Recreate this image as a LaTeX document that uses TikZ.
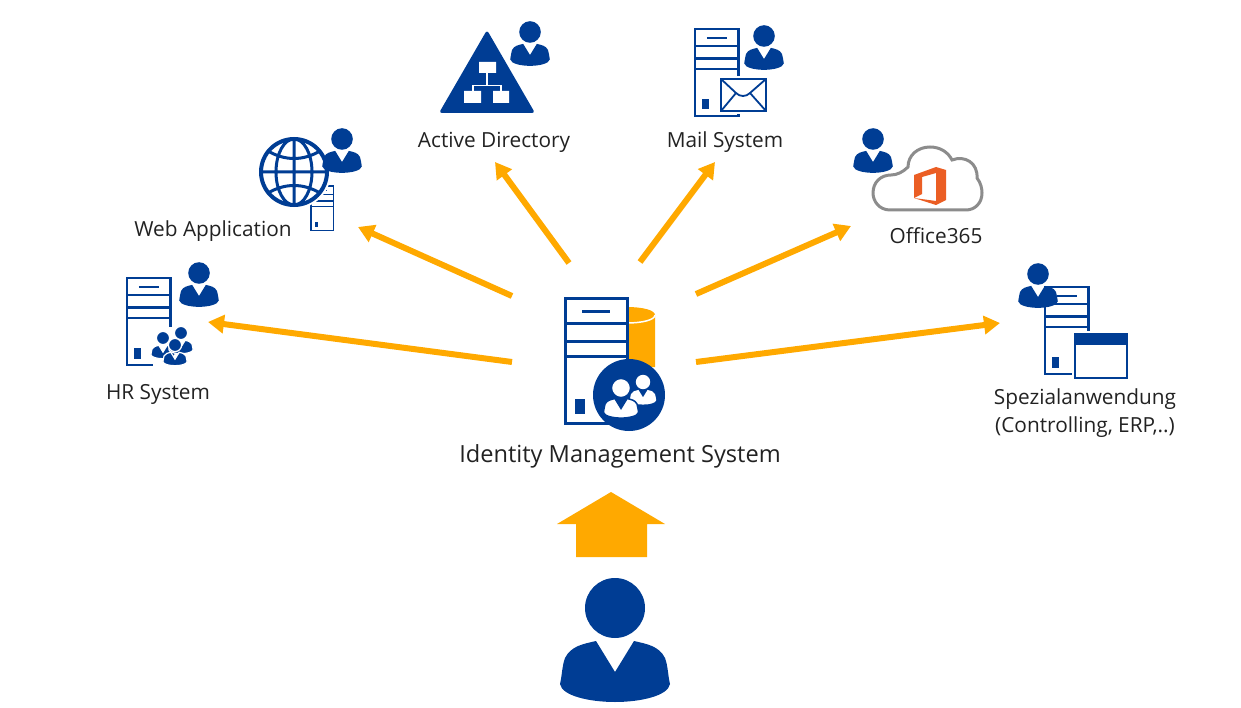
\documentclass[tikz,border=0pt]{standalone}
\usepackage{fontspec}
\setmainfont{Open Sans}
\usetikzlibrary{arrows.meta}
\definecolor{idmblue}{HTML}{003D94}
\definecolor{idmorange}{HTML}{FFA900}
\definecolor{idmgray}{HTML}{8C8C8C}
\definecolor{officeorange}{HTML}{EB5E24}
\definecolor{idmtext}{HTML}{222222}
\tikzset{
	pics/person/.style = {code = {
		\path[pic actions,line width=#1] (0,0) circle[radius=30];
		\path[pic actions,line width=#1] (-19,33) -- (0,64) -- (19,33) .. controls (32,36) and (44,38) .. (50,50)
		.. controls (53,58) and (53,68) .. (55,76) .. controls (53,88) and (25,94) .. (0,94)
		.. controls (-25,94) and (-53,88) .. (-55,76) .. controls (-53,68) and (-53,58) .. (-50,50)
		.. controls (-44,38) and (-32,36) .. (-19,33) -- cycle;
	}},
	pics/person/.default = 0pt,
	pics/server/.style = {code = {
		\draw[idmblue,fill=white,line width=#1] (0,0) rectangle (62,124);
		\draw[idmblue,line width=#1] (0,24) -- (62,24) (0,42) -- (62,42) (0,57) -- (62,57) (17,13) -- (45,13);
		\fill[idmblue] (10,100) rectangle (20,115);
	}}
}
\begin{document}
\begin{tikzpicture}[x=1pt,y=-1pt,
	small person/.style = {fill=idmblue,scale=0.36},
	crowd person/.style = {fill=idmblue,draw=white,scale=0.22},
	inner person/.style = {fill=white,draw=idmblue},
	flow/.style = {idmorange,line width=6pt,-{Triangle[width=18pt,length=16pt]}},
	label/.style = {text=idmtext,font=\fontsize{20.8}{27.5}\selectfont,align=center,inner sep=0pt}]
	
	\useasboundingbox (0,0) rectangle (1241,708);
	
	% central system
	\fill[idmorange] (627,307) .. controls (642,307) and (655,310) .. (655,315) -- (655,367) -- (627,367) -- cycle;
	\draw[white,line width=1.5pt] (627,323) .. controls (642,323) and (655,320) .. (655,315);
	\pic at (565,299) {server=3pt};
	\fill[idmblue] (629,395) circle[radius=36];
	\pic[fill=white,scale=0.24] at (643,382) {person};
	\pic[inner person,scale=0.32] at (621,388) {person=1.5pt};
	\node[text=idmtext,font=\fontsize{23.6}{28}\selectfont,inner sep=0pt] (main) at (620,456.5) {Identity Management System};
	
	% active directory
	\fill[idmblue,rounded corners=3pt] (487,30) -- (535,113) -- (439,113) -- cycle;
	\fill[white] (479,62) rectangle (496,73) (464,91) rectangle (481,103) (493,91) rectangle (509,103);
	\draw[white,line width=1.5pt] (487,73) -- (487,85.5) (473,91) -- (473,85.5) -- (501,85.5) -- (501,91);
	\pic[small person] at (530,32) {person};
	\node[label] (ad) at (494,142) {Active Directory};
	
	% mail
	\pic[scale=0.7] at (695,29) {server=2.5pt};
	\fill[white] (718,76) rectangle (769,114);
	\draw[idmblue,line width=2.5pt] (721,79) rectangle (766,111);
	\draw[idmblue,line width=1.8pt] (721,79) -- (736,93) .. controls (740,97) and (746,97) .. (750,93) -- (766,79)
	(721,111) -- (736,93) (766,111) -- (750,93);
	\pic[small person] at (764,36) {person};
	\node[label] (mail) at (725,142) {Mail System};
	
	% web application
	\pic[scale=0.36] at (311,186) {server=1.5pt};
	\fill[white] (294,172) circle[radius=37];
	\draw[idmblue,line width=4pt] (294,172) circle[radius=33];
	\draw[idmblue,line width=3pt] (294,172) ellipse[x radius=18,y radius=33] (294,139) -- (294,205) (261,172) -- (327,172)
	(268,151) .. controls (285,161) and (303,161) .. (320,151)
	(268,193) .. controls (285,183) and (303,183) .. (320,193);
	\pic[small person] at (342,139) {person};
	\node[label] (web) at (213,231) {Web Application};
	
	% hr
	\pic[scale=0.7] at (127,278) {server=2.5pt};
	\fill[white] (153,327) rectangle (173,369);
	\pic[crowd person] at (163,338) {person=1.2pt};
	\pic[crowd person] at (181,333) {person=1.2pt};
	\pic[crowd person] at (175,345) {person=1.2pt};
	\pic[small person] at (199,273) {person};
	\node[label] (hr) at (158,394) {HR System};
	
	% office
	\draw[idmgray,line width=3pt,fill=white] (890,210) .. controls (879,210) and (873,201) .. (873,193)
	.. controls (873,182) and (881,175) .. (891,175) .. controls (897,175) and (903,172) .. (908,167)
	.. controls (908,155) and (918,147) .. (930,147) .. controls (940,147) and (948,152) .. (952,160)
	.. controls (965,155) and (978,163) .. (977,178) .. controls (981,183) and (982,189) .. (982,193)
	.. controls (982,203) and (975,210) .. (966,210) -- cycle;
	\fill[officeorange] (914,175) -- (936,167) -- (946,170) -- (946,200) -- (936,205) -- (914,198)
	-- (936,201) -- (936,173) -- (922,177) -- (922,194) -- (914,198) -- cycle;
	\pic[small person] at (873,139) {person};
	\node[label] (office) at (936,236) {Office365};
	
	% special application
	\pic[scale=0.7] at (1045,287) {server=2.5pt};
	\fill[white] (1072,331) rectangle (1130,381);
	\draw[idmblue,line width=2.5pt] (1075,334) rectangle (1127,378);
	\fill[idmblue] (1075,334) rectangle (1127,345);
	\pic[small person] at (1038,274) {person};
	\node[label] (spezial) at (1085,413) {Spezialanwendung\\(Controlling, ERP,..)};
	
	% arrows
	\coordinate (from hr) at (512,362);
	\coordinate (to hr) at (208,322);
	\coordinate (from web) at (512,296);
	\coordinate (to web) at (358,227);
	\coordinate (from ad) at (569,263);
	\coordinate (to ad) at (495,162);
	\coordinate (from mail) at (640,262);
	\coordinate (to mail) at (715,162);
	\coordinate (from office) at (696,294);
	\coordinate (to office) at (851,226);
	\coordinate (from spezial) at (696,362);
	\coordinate (to spezial) at (1000,323);
	\foreach \target in {hr,web,ad,mail,office,spezial}
		\draw[flow] (from \target) -- (to \target);
	
	% input
	\fill[idmorange] (611,492) -- (665,524) -- (647,524) -- (647,557) -- (576,557) -- (576,524) -- (557,524) -- cycle;
	\pic[fill=idmblue] at (615,608) {person};
\end{tikzpicture}
\end{document}
